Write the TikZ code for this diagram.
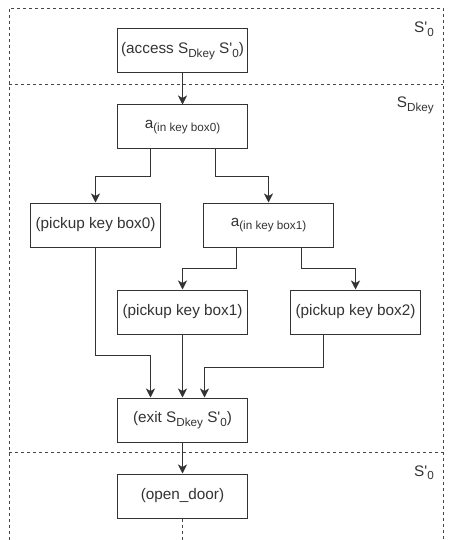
\documentclass[tikz,border=0pt]{standalone}
\usepackage{fontspec}
\setmainfont{Liberation Sans}[Ligatures=TeXOff]
\usetikzlibrary{arrows.meta, positioning, calc}
\definecolor{linegray}{RGB}{51, 51, 51}
\definecolor{framegray}{RGB}{70, 70, 70}
\newcommand{\lo}[1]{\raisebox{-3.5pt}{\fontsize{11.7}{13}\selectfont #1}}

\tikzset{
  box/.style={draw=linegray, line width=1pt, minimum width=130pt, minimum height=44pt,
    inner sep=2pt, text=linegray, font=\fontsize{15.3}{18}\selectfont},
  arr/.style={-{Stealth[length=9pt, width=9pt, inset=2.5pt]}, line width=1pt, linegray},
  frame/.style={framegray, line width=0.9pt, dash pattern=on 3pt off 3pt},
  lane/.style={text=linegray, font=\fontsize{15.3}{18}\selectfont, anchor=base east, inner sep=0pt}
}

\begin{document}
\begin{tikzpicture}[x=1pt, y=-1pt]
  \useasboundingbox (0,0) rectangle (452,540);

  % ===== 泳道 =====
  \draw[frame] (9,540) -- (9,8) -- (443,8) -- (443,540);
  \draw[frame] (9,84) -- (443,84);
  \draw[frame] (9,452) -- (443,452);
  \node[lane] (laneA) at (434,33) {S'\lo{0}};
  \node[lane] (laneB) at (434,108) {S\lo{Dkey}};
  \node[lane] (laneC) at (434,476) {S'\lo{0}};

  % ===== 动作 =====
  \node[box] (access) at (182.5,51) {(access S\lo{Dkey} S'\lo{0})};
  \node[box] (in0) at (182.5,127) {a\lo{(in key box0)}};
  \node[box] (pick0) at (95.5,225) {(pickup key box0)};
  \node[box] (in1) at (268.5,225) {a\lo{(in key box1)}};
  \node[box] (pick1) at (182.5,312) {(pickup key box1)};
  \node[box] (pick2) at (355.5,312) {(pickup key box2)};
  \node[box] (exit) at (182.5,420) {(exit S\lo{Dkey} S'\lo{0})};
  \node[box] (door) at (182.5,496) {(open\_door)};

  % 连线
  \draw[arr] (access) -- (in0);
  \draw[arr] ([xshift=-32pt]in0.south) -- ++(0,27) -| (pick0.north);
  \draw[arr] ([xshift=33pt]in0.south) -- ++(0,27) -| (in1.north);
  \draw[arr] ([xshift=-32pt]in1.south) -- ++(0,21) -| (pick1.north);
  \draw[arr] ([xshift=33pt]in1.south) -- ++(0,21) -| (pick2.north);

  % 汇合到 exit
  \draw[arr] (pick0.south) -- ++(0,108) -| ([xshift=-32pt]exit.north);
  \draw[arr] (pick1) -- (exit);
  \draw[arr] ([xshift=-32pt]pick2.south) -- ++(0,33) -| ([xshift=22pt]exit.north);
  \draw[arr] (exit) -- (door);

  % 继续（虚线）
  \draw[frame] (door.south) -- (door.south |- 0,540);
\end{tikzpicture}
\end{document}
